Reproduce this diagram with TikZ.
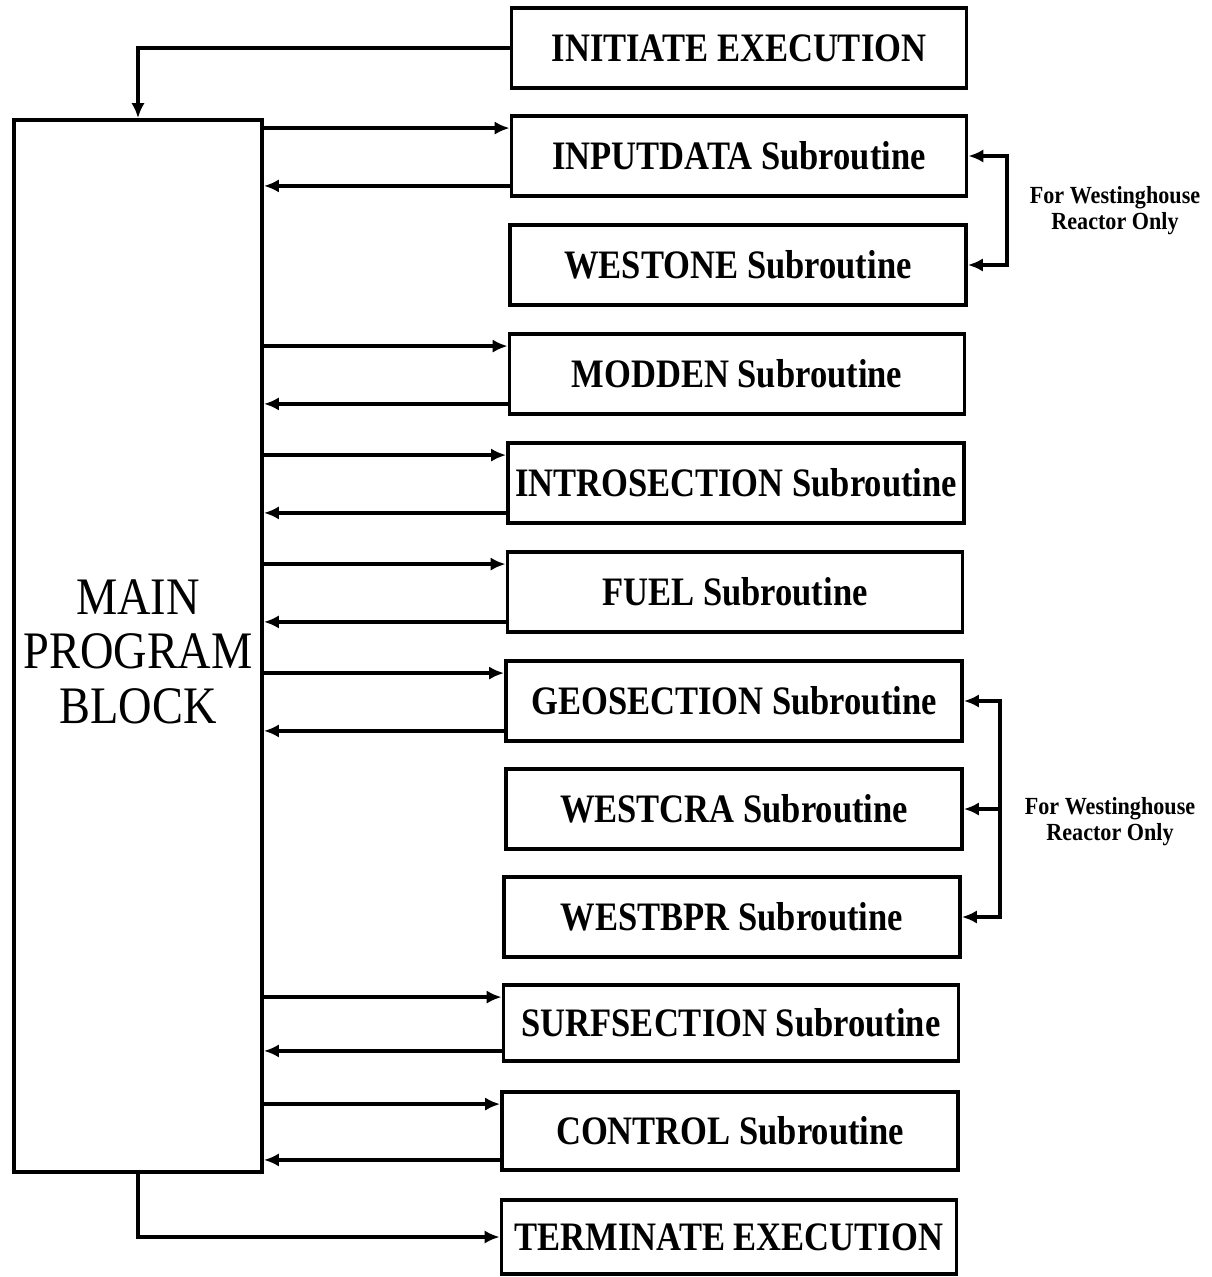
\documentclass[tikz,border=0pt]{standalone}
\usepackage{fontspec}
\setmainfont{Liberation Serif}
\usetikzlibrary{arrows.meta,calc}
\newcommand{\bt}[1]{\scalebox{0.855}[1]{\fontsize{23}{27}\selectfont\bfseries #1}}
\newcommand{\lt}[1]{\scalebox{0.9}[1]{\bfseries #1}}
\newcommand{\mt}[1]{\scalebox{0.88}[1]{#1}}
\begin{document}
\begin{tikzpicture}[x=0.02cm,y=-0.02cm,
  every path/.style={line width=2.2pt},
  arr/.style={-{Latex[length=8.5pt,width=7.5pt]}},
  dbl/.style={{Latex[length=8.5pt,width=7.5pt]}-{Latex[length=8.5pt,width=7.5pt]}},
  sub/.style={draw,line width=2.2pt,minimum width=9.1cm,minimum height=1.6cm,inner sep=0pt},
  lbl/.style={align=center,inner sep=0pt,font=\fontsize{14}{14.8}\selectfont}]
\useasboundingbox (0,0) rectangle (1211,1277);
\node[draw,line width=2.2pt,minimum width=4.96cm,minimum height=21.04cm,inner sep=0pt,
  label={[align=center,font=\fontsize{30}{31}\selectfont,yshift=-0.11cm]center:\mt{MAIN}\\\mt{PROGRAM}\\\mt{BLOCK}}] (main) at (138,646) {};
\node[sub] (init)  at (739,48)  {\bt{INITIATE EXECUTION}};
\node[sub] (inp)   at (739,156) {\bt{INPUTDATA Subroutine}};
\node[sub,minimum width=9.12cm] (wone)  at (738,265) {\bt{WESTONE Subroutine}};
\node[sub] (mod)   at (737,374) {\bt{MODDEN Subroutine}};
\node[sub,minimum width=9.12cm] (intro) at (736,483) {\bt{INTROSECTION Subroutine}};
\node[sub] (fuel)  at (735,592) {\bt{FUEL Subroutine}};
\node[sub,minimum width=9.12cm] (geo)   at (734,701) {\bt{GEOSECTION Subroutine}};
\node[sub,minimum width=9.12cm] (wcra)  at (734,809) {\bt{WESTCRA Subroutine}};
\node[sub,minimum width=9.12cm] (wbpr)  at (732,917) {\bt{WESTBPR Subroutine}};
\node[sub,minimum height=1.52cm] (surf)  at (731,1023) {\bt{SURFSECTION Subroutine}};
\node[sub,minimum width=9.12cm,minimum height=1.56cm] (ctrl)  at (730,1131) {\bt{CONTROL Subroutine}};
\node[sub,minimum height=1.48cm] (term)  at (729,1237) {\bt{TERMINATE EXECUTION}};
\node[lbl] (l1) at (1115,211) {\lt{For Westinghouse}\\\lt{Reactor Only}};
\node[lbl] (l2) at (1110,822) {\lt{For Westinghouse}\\\lt{Reactor Only}};
% initiate / terminate
\draw[arr] (init.west) -| (main.north);
\draw[arr] (main.south) |- (term.west);
% call / return pairs
\foreach \b in {inp,mod,intro,fuel,geo,surf,ctrl}{
  \coordinate (\b-c) at ($(\b.north west)+(0,14)$);
  \coordinate (\b-r) at ($(\b.south west)+(0,-12)$);
  \draw[arr] (main.east |- \b-c) -- (\b-c);
  \draw[arr] (\b-r) -- (main.east |- \b-r);
}
% brackets
\coordinate (b1) at ($(inp.east)+(39,0)$);
\draw[dbl] (inp.east) -- (b1) |- (wone.east);
\coordinate (b2) at ($(geo.east)+(36,0)$);
\draw[dbl] (geo.east) -- (b2) |- (wbpr.east);
\draw[arr] (b2 |- wcra.east) -- (wcra.east);
\end{tikzpicture}
\end{document}
